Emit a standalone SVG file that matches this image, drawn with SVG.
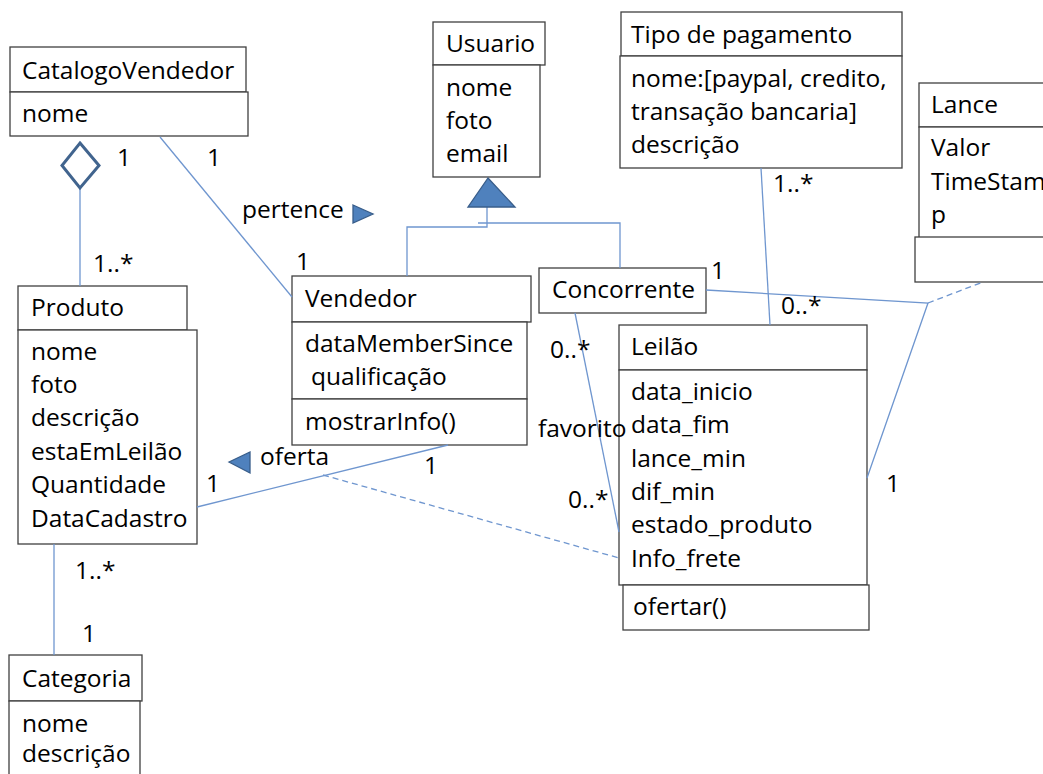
<svg xmlns="http://www.w3.org/2000/svg" width="1043" height="774" viewBox="0 0 1043 774">
<style>
  .box { fill: #ffffff; stroke: #404040; stroke-width: 1.3; }
  .t { font-family: "Open Sans", "Liberation Sans", sans-serif; font-size: 24.5px; fill: #000000; }
  .conn { fill: none; stroke: #6f96cf; stroke-width: 1.3; }
  .dash { fill: none; stroke: #6f96cf; stroke-width: 1.3; stroke-dasharray: 6 4; }
  .tri { fill: #4f81bd; stroke: #385d8a; stroke-width: 1.3; }
</style>
<rect width="1043" height="774" fill="#ffffff"/>

<g id="CatalogoVendedor">
  <rect class="box" x="10" y="47" width="236" height="45"/>
  <rect class="box" x="10" y="92" width="238" height="44"/>
  <text class="t" x="22" y="79">CatalogoVendedor</text>
  <text class="t" x="22" y="122">nome</text>
</g>

<g id="Usuario">
  <rect class="box" x="433" y="22" width="112" height="43"/>
  <rect class="box" x="433" y="65" width="107" height="112"/>
  <text class="t" x="446" y="52">Usuario</text>
  <text class="t" x="446" y="96">nome</text>
  <text class="t" x="446" y="129">foto</text>
  <text class="t" x="446" y="162">email</text>
</g>

<g id="TipoDePagamento">
  <rect class="box" x="621" y="12" width="281" height="44"/>
  <rect class="box" x="620" y="56" width="282" height="112"/>
  <text class="t" x="631" y="43">Tipo de pagamento</text>
  <text class="t" x="631" y="87">nome:[paypal, credito,</text>
  <text class="t" x="631" y="120">transação bancaria]</text>
  <text class="t" x="631" y="153">descrição</text>
</g>

<g id="Lance">
  <rect class="box" x="919" y="83" width="140" height="44"/>
  <rect class="box" x="919" y="127" width="140" height="111"/>
  <rect class="box" x="915" y="237" width="144" height="45"/>
  <text class="t" x="931" y="113">Lance</text>
  <text class="t" x="931" y="156">Valor</text>
  <text class="t" x="931" y="190">TimeStam</text>
  <text class="t" x="931" y="223">p</text>
</g>

<g id="Produto">
  <rect class="box" x="18" y="286" width="169" height="44"/>
  <rect class="box" x="18" y="330" width="179" height="214"/>
  <text class="t" x="31" y="316">Produto</text>
  <text class="t" x="31" y="360">nome</text>
  <text class="t" x="31" y="393">foto</text>
  <text class="t" x="31" y="426">descrição</text>
  <text class="t" x="31" y="460">estaEmLeilão</text>
  <text class="t" x="31" y="493">Quantidade</text>
  <text class="t" x="31" y="527">DataCadastro</text>
</g>

<g id="Vendedor">
  <rect class="box" x="292" y="276" width="239" height="46"/>
  <rect class="box" x="292" y="322" width="235" height="77"/>
  <rect class="box" x="292" y="399" width="235" height="46"/>
  <text class="t" x="305" y="307">Vendedor</text>
  <text class="t" x="305" y="352">dataMemberSince</text>
  <text class="t" x="311" y="385">qualificação</text>
  <text class="t" x="305" y="430">mostrarInfo()</text>
</g>

<g id="Concorrente">
  <rect class="box" x="539" y="268" width="167" height="45"/>
  <text class="t" x="552" y="298">Concorrente</text>
</g>

<g id="Leilao">
  <rect class="box" x="619" y="325" width="248" height="45"/>
  <rect class="box" x="619" y="370" width="248" height="215"/>
  <rect class="box" x="623" y="585" width="246" height="45"/>
  <text class="t" x="631" y="355">Leilão</text>
  <text class="t" x="631" y="400">data_inicio</text>
  <text class="t" x="631" y="433">data_fim</text>
  <text class="t" x="631" y="467">lance_min</text>
  <text class="t" x="631" y="500">dif_min</text>
  <text class="t" x="631" y="533">estado_produto</text>
  <text class="t" x="631" y="567">Info_frete</text>
  <text class="t" x="633" y="615">ofertar()</text>
</g>

<g id="Categoria">
  <rect class="box" x="9" y="655" width="133" height="46"/>
  <rect class="box" x="9" y="701" width="131" height="80"/>
  <text class="t" x="22" y="687">Categoria</text>
  <text class="t" x="22" y="732">nome</text>
  <text class="t" x="22" y="762">descrição</text>
</g>

<g id="connectors">
  <!-- aggregation CatalogoVendedor - Produto -->
  <line class="conn" x1="80" y1="188" x2="80" y2="286"/>
  <polygon points="80,143 99,165.5 80,188 62,165.5" fill="#ffffff" stroke="#41648e" stroke-width="3"/>
  <!-- pertence -->
  <line class="conn" x1="160" y1="137" x2="292" y2="297"/>
  <polygon class="tri" points="353,205 373,214 353,223"/>
  <!-- generalization -->
  <polyline class="conn" points="487,207 487,227 407,227 407,276"/>
  <polyline class="conn" points="478,223 620,223 620,268"/>
  <polygon class="tri" points="488,178 515,207 468,207"/>
  <!-- Tipo - Leilao -->
  <line class="conn" x1="761" y1="168" x2="770" y2="325"/>
  <!-- Concorrente - Leilao - Lance -->
  <polyline class="conn" points="706,290 928,303 867,478"/>
  <line class="dash" x1="928" y1="303" x2="983" y2="282"/>
  <!-- favorito -->
  <line class="conn" x1="575" y1="313" x2="619" y2="532"/>
  <!-- oferta -->
  <line class="conn" x1="197" y1="507" x2="448" y2="445"/>
  <line class="dash" x1="323" y1="475" x2="619" y2="558"/>
  <polygon class="tri" points="229,462 250,452 250,473"/>
  <!-- Produto - Categoria -->
  <line class="conn" x1="54" y1="544" x2="54" y2="655"/>
  <!-- labels -->
  <text class="t" x="117" y="166">1</text>
  <text class="t" x="93" y="272">1..*</text>
  <text class="t" x="207" y="166">1</text>
  <text class="t" x="242" y="218">pertence</text>
  <text class="t" x="296" y="270">1</text>
  <text class="t" x="711" y="279">1</text>
  <text class="t" x="773" y="192">1..*</text>
  <text class="t" x="781" y="314">0..*</text>
  <text class="t" x="886" y="492">1</text>
  <text class="t" x="550" y="358">0..*</text>
  <text class="t" x="538" y="437">favorito</text>
  <text class="t" x="568" y="508">0..*</text>
  <text class="t" x="260" y="465">oferta</text>
  <text class="t" x="206" y="492">1</text>
  <text class="t" x="424" y="474">1</text>
  <text class="t" x="75" y="579">1..*</text>
  <text class="t" x="82" y="642">1</text>
</g>
</svg>
